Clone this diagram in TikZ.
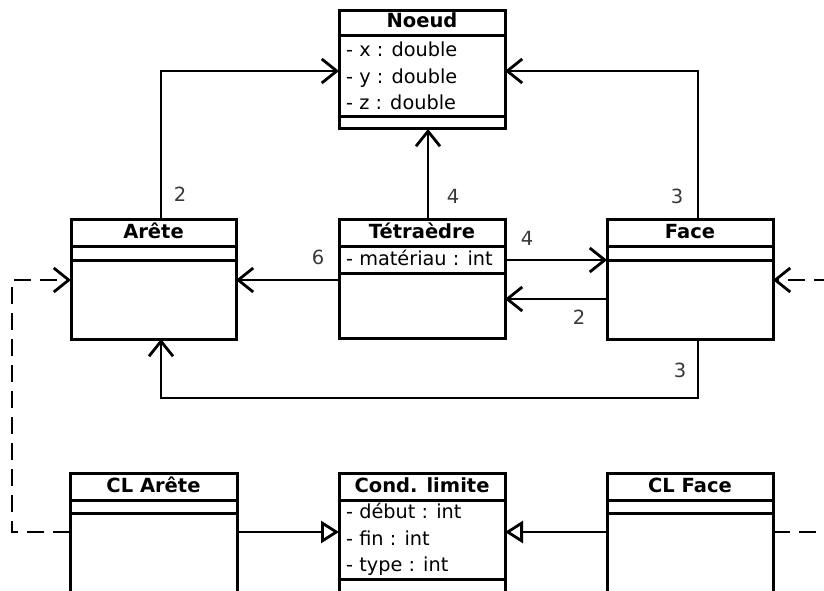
\documentclass[tikz,border=0pt]{standalone}
\usepackage{fontspec}
\setmainfont{DejaVu Sans}
\usetikzlibrary{arrows.meta}
\begin{document}
\begin{tikzpicture}[x=1pt,y=-1pt,
  classbox/.style={draw,line width=3pt,inner sep=0pt,outer sep=0pt,anchor=north west},
  sepline/.style={line width=3pt},
  hdr/.style={font=\bfseries\fontsize{19.5}{19.5}\selectfont,anchor=base,inner sep=0pt},
  attr/.style={font=\fontsize{19.3}{19.3}\selectfont,anchor=base west,inner sep=0pt},
  mult/.style={font=\fontsize{19.5}{19.5}\selectfont,text=black!78,inner sep=0pt},
  assoc/.style={line width=2.8pt,-{Straight Barb[length=15pt,width=24pt,line width=2.8pt]}},
  depend/.style={assoc,dash pattern=on 17pt off 9pt},
  inherit/.style={line width=2.8pt,-{Triangle[open,length=18pt,width=22pt,line width=2.8pt]}}]
\useasboundingbox (0,0) rectangle (824,591);
\clip (0,0) rectangle (824,591);
% --- classes ---
\node[classbox,minimum width=166pt,minimum height=118pt] (noeud) at (339,11) {};
\draw[sepline] (noeud.west |- 0,36) -- (noeud.east |- 0,36);
\draw[sepline] (noeud.west |- 0,117) -- (noeud.east |- 0,117);
\node[hdr] (noeudt) at (422,28) {Noeud};
\node[attr] (nx) at (346,57) {- x : double};
\node[attr] (ny) at (346,83.5) {- y : double};
\node[attr] (nz) at (346,110) {- z : double};

\node[classbox,minimum width=165pt,minimum height=120pt] (arete) at (71,219) {};
\draw[sepline] (arete.west |- 0,246) -- (arete.east |- 0,246);
\draw[sepline] (arete.west |- 0,260) -- (arete.east |- 0,260);
\node[hdr] (aretet) at (153.5,238) {Arête};

\node[classbox,minimum width=166pt,minimum height=119pt] (tet) at (339,219) {};
\draw[sepline] (tet.west |- 0,246) -- (tet.east |- 0,246);
\draw[sepline] (tet.west |- 0,273) -- (tet.east |- 0,273);
\node[hdr] (tett) at (422,238) {Tétraèdre};
\node[attr] (tetm) at (346,265) {- matériau : int};

\node[classbox,minimum width=166pt,minimum height=120pt] (face) at (607,219) {};
\draw[sepline] (face.west |- 0,246) -- (face.east |- 0,246);
\draw[sepline] (face.west |- 0,260) -- (face.east |- 0,260);
\node[hdr] (facet) at (690,238) {Face};

\node[classbox,minimum width=167pt,minimum height=160pt] (clarete) at (70,473) {};
\draw[sepline] (clarete.west |- 0,500) -- (clarete.east |- 0,500);
\draw[sepline] (clarete.west |- 0,513) -- (clarete.east |- 0,513);
\node[hdr] (claretet) at (153.5,492) {CL Arête};

\node[classbox,minimum width=166pt,minimum height=160pt] (cond) at (339,473) {};
\draw[sepline] (cond.west |- 0,500) -- (cond.east |- 0,500);
\draw[sepline] (cond.west |- 0,579) -- (cond.east |- 0,579);
\node[hdr] (condt) at (422,492) {Cond. limite};
\node[attr] (cd) at (346,518.5) {- début : int};
\node[attr] (cf) at (346,545) {- fin : int};
\node[attr] (ct) at (346,571.5) {- type : int};

\node[classbox,minimum width=166pt,minimum height=160pt] (clface) at (607,473) {};
\draw[sepline] (clface.west |- 0,500) -- (clface.east |- 0,500);
\draw[sepline] (clface.west |- 0,513) -- (clface.east |- 0,513);
\node[hdr] (clfacet) at (690,492) {CL Face};

% --- associations ---
\draw[assoc] (arete.north -| 161,0) |- (noeud.west |- 0,71);
\draw[assoc] (tet.north -| 428,0) -- (noeud.south -| 428,0);
\draw[assoc] (face.north -| 698,0) |- (noeud.east |- 0,71);
\draw[assoc] (tet.west |- 0,280) -- (arete.east |- 0,280);
\draw[assoc] (tet.east |- 0,260) -- (face.west |- 0,260);
\draw[assoc] (face.west |- 0,299) -- (tet.east |- 0,299);
\coordinate (fa1) at (698,398);
\coordinate (fa2) at (161,398);
\draw[assoc] (face.south -| fa1) -- (fa1) -- (fa2) -- (arete.south -| fa2);

% --- multiplicities ---
\node[mult] (m1) at (180,194) {2};
\node[mult] (m2) at (453,196) {4};
\node[mult] (m3) at (677,196) {3};
\node[mult] (m4) at (318,257) {6};
\node[mult] (m5) at (527,238) {4};
\node[mult] (m6) at (579,317) {2};
\node[mult] (m7) at (680,370) {3};

% --- dependencies ---
\coordinate (dl1) at (12,532);
\coordinate (dl2) at (12,280);
\draw[depend] (clarete.west |- dl1) -- (dl1) -- (dl2) -- (arete.west |- dl2);
\coordinate (dr1) at (845,532);
\coordinate (dr2) at (845,280);
\draw[depend] (clface.east |- dr1) -- (dr1) -- (dr2) -- (face.east |- dr2);

% --- inheritance ---
\draw[inherit] (clarete.east |- 0,532) -- (cond.west |- 0,532);
\draw[inherit] (clface.west |- 0,532) -- (cond.east |- 0,532);
\end{tikzpicture}
\end{document}
